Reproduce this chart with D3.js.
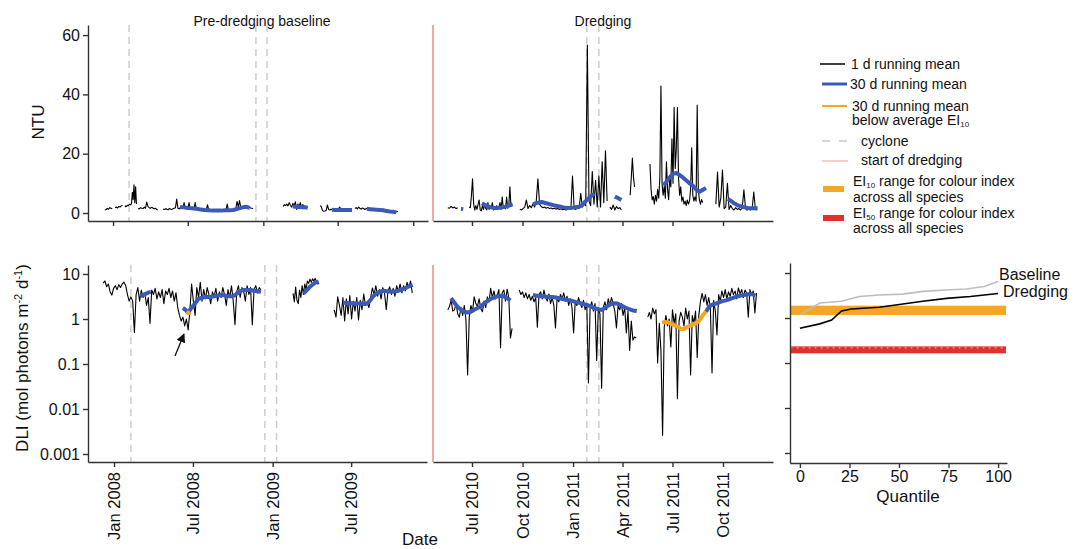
<!DOCTYPE html>
<html>
<head>
<meta charset="utf-8">
<script src="https://cdn.jsdelivr.net/npm/d3@7"></script>
<style>
  body { margin: 0; background: #fff; }
  svg { font-family: "Liberation Sans", Arial, sans-serif; }
</style>
</head>
<body>
<script>
// ---- data: [start date, step in days, values] per unbroken segment ----
const ntuBase1d = [
  ["2007-12-12", 3, [1.0, 1.2, 1.5, 1.3, 1.8, 1.6, 1.4]],
  ["2008-01-06", 3, [1.8, 2.0, 1.7, 2.2, 2.0, 2.4, 2.6]],
  ["2008-01-30", 2, [2.0, 2.4, 2.2, 2.6, 2.5, 2.8, 3.0, 2.7, 3.2, 7.0, 4.5, 9.5, 3.5, 8.8, 3.0]],
  ["2008-03-02", 3, [1.5, 1.4, 1.8, 1.6, 1.5, 2.0, 1.6, 3.7, 2.2, 1.8, 1.6, 1.9, 1.7, 1.4, 1.6, 1.2, 1.0]],
  ["2008-05-02", 3, [1.3, 1.2, 1.4, 1.3, 1.1, 1.5, 1.3, 1.2, 1.4, 1.6, 1.8, 4.7, 1.6, 1.4, 1.9, 1.5, 1.7, 3.5, 1.4, 1.6,
                     1.3, 3.5, 1.5, 1.2, 1.4, 1.1, 3.5, 1.2, 1.0, 0.9, 1.1, 0.8, 1.0, 0.9, 1.1, 1.0, 2.8, 1.0, 0.8, 0.9,
                     1.0, 0.8, 1.0, 0.9, 1.1, 0.9, 1.0, 0.8, 1.0, 0.9, 1.1, 1.0, 3.0, 1.0, 0.9, 1.2, 1.0, 1.3, 1.1, 1.6,
                     3.9, 2.0, 4.2, 1.8, 2.0, 1.7, 2.2, 2.0, 1.8, 2.1, 1.9, 1.7, 1.6, 1.5]],
  ["2009-02-18", 3, [2.2, 2.8, 2.5, 3.0, 2.4, 3.5, 2.6, 2.0, 3.2, 2.5, 3.8, 1.2, 3.0, 2.2, 3.5, 2.0, 2.8, 2.4, 2.0, 2.2, 1.9]],
  ["2009-05-19", 3, [2.5, 2.2, 0.8, 0.6, 0.7, 0.9, 2.7, 1.2, 1.0, 1.3, 1.1, 1.4, 1.2, 1.0, 1.3, 1.5, 2.0, 1.2, 1.1, 1.3,
                     1.0, 1.2, 1.4, 1.1, 1.3, 1.0, 1.2]],
  ["2009-08-12", 3, [1.5, 1.8, 1.4, 2.0, 1.6, 1.3, 1.7, 1.5, 1.2, 1.4, 1.6, 1.3, 1.1, 1.4, 1.2, 1.0, 1.3, 1.1, 0.9, 1.2,
                     1.0, 0.8, 1.0, 0.9, 0.7, 0.9, 0.8, 0.6, 0.8, 0.7, 0.5, 0.7, 0.6, 0.5, 0.4, 0.5]]
];
const ntuBase30d = [
  ["2008-06-12", 10, [1.9, 1.9, 1.7, 1.6, 1.4, 1.2, 1.0, 0.9, 0.8, 0.8, 0.8, 0.9, 0.9, 1.0, 1.4, 1.8, 2.1, 1.7]],
  ["2009-03-14", 6, [2.2, 2.1, 2.0, 2.0, 1.9, 1.9, 1.8]],
  ["2009-06-17", 7, [1.1, 1.0, 1.0, 1.0, 1.0, 1.0, 1.0, 1.0]],
  ["2009-09-10", 8, [1.4, 1.3, 1.2, 1.1, 1.0, 0.9, 0.7, 0.5, 0.4, 0.2]]
];
const ntuDredge1d = [
  ["2010-05-18", 3, [1.8, 1.6, 2.2, 1.7, 2.0, 1.5, 1.8]],
  ["2010-06-26", 2, [2.0, 1.8, 6.0, 11.5, 3.0, 1.0, 2.5, 1.2, 2.8, 4.4, 1.0, 0.7, 2.5, 1.2, 3.0, 1.5, 1.0, 3.5, 1.2, 2.0,
                     1.5, 3.5, 1.0, 2.2, 1.4, 2.5, 1.2, 2.0, 3.5, 1.2, 5.4, 1.5, 2.2, 1.4, 5.4, 1.6, 2.5, 8.8, 2.0]],
  ["2010-09-26", 3, [1.3, 1.0, 1.5, 2.0, 4.4, 1.5, 2.5, 1.8, 3.0, 2.0, 4.0, 11.5, 3.0, 2.2, 1.8, 2.0, 1.6, 1.9, 1.5, 1.7,
                     1.4, 1.6, 1.3, 1.5, 1.2, 1.4, 1.1, 1.3, 1.0, 1.2, 1.5, 1.3, 12.5, 1.5, 1.2, 1.8, 1.5, 6.6, 2.0, 3.0,
                     2.5, 56.6, 4.0, 2.5, 14.0, 3.0, 11.0, 2.0, 12.5, 2.0, 17.3, 3.5, 21.0, 4.0]],
  ["2011-03-09", 3, [2.0, 1.2, 2.7, 1.0, 2.2, 1.5, 1.8, 1.0]],
  ["2011-04-15", 2, [6.0, 12.0, 18.5, 12.0, 8.8]],
  ["2011-05-21", 2, [16.5, 8.0, 4.4, 5.5, 3.0, 6.0, 4.0, 8.0, 5.0, 12.0, 42.8, 10.0, 6.0, 9.0, 5.0, 17.3, 8.0, 4.5, 12.0, 8.8,
                     25.0, 10.0, 35.6, 15.0, 22.0, 35.6, 12.0, 6.0, 8.8, 4.0, 5.4, 3.0, 4.0, 2.5, 4.4, 3.0, 4.0, 8.0, 22.0, 6.0,
                     4.0, 5.4, 4.0, 36.4, 8.0, 4.4, 3.0, 4.5, 3.5]],
  ["2011-09-18", 3, [3.0, 13.8, 2.0, 5.0, 14.5, 1.5, 2.0, 10.0, 1.2, 2.5, 1.5, 1.0, 1.8, 1.2, 1.5, 1.0, 1.8, 7.8, 1.5, 1.0,
                     1.3, 1.0, 1.5, 7.1, 1.2, 1.0]]
];
const ntuDredge30d = [
  ["2010-06-11", 4, [1.4, 1.3]],
  ["2010-07-19", 8, [3.3, 2.5, 1.9, 1.7, 1.8, 2.0, 2.4, 3.0]],
  ["2010-10-20", 8, [3.0, 3.4, 3.7, 3.3, 2.9, 2.5, 2.2, 1.9, 1.7, 1.8, 2.0, 2.4, 4.0, 5.4, 6.5]],
  ["2011-03-18", 4, [5.6, 5.2, 4.8, 4.4]],
  ["2011-06-14", 6, [9.4, 10.5, 12.0, 13.2, 13.5, 12.8, 12.0, 11.0, 10.0, 9.2, 8.0, 7.2, 7.8, 8.4]],
  ["2011-10-10", 6, [4.7, 4.0, 3.2, 2.6, 2.2, 1.9, 1.7, 1.6, 1.6, 1.6]]
];
const dliBase1d = [
  ["2007-12-07", 4, [6.3, 7.0, 5.2, 6.0, 4.0, 3.4, 4.8, 5.5, 4.5, 5.8, 5.0, 6.0, 6.6, 5.5, 3.5, 2.5, 3.1, 2.5, 0.5, 3.5,
                     5.0, 2.5, 4.4, 3.0, 3.8, 2.0, 3.0, 0.8, 4.4, 3.5, 4.8, 2.8, 4.0, 3.0, 4.5, 2.2, 4.2, 3.5, 4.8, 3.0,
                     4.2, 2.5, 3.8, 1.8, 1.2, 0.9, 1.1, 0.7, 1.0, 0.57, 1.5, 6.0, 2.5, 1.2, 5.0, 3.0, 6.5, 2.5, 4.5, 2.8,
                     5.0, 3.5, 2.2, 4.0, 3.2, 4.8, 2.5, 4.0, 3.0, 5.0, 3.5, 2.0, 4.5, 3.0, 5.5, 2.5, 0.75, 4.0, 5.5, 3.0,
                     5.0, 4.2, 2.5, 5.5, 3.5, 5.0, 0.75, 4.5, 5.5, 3.8, 5.0, 4.4]],
  ["2009-02-17", 3, [3.7, 2.4, 5.1, 2.6, 2.2, 4.4, 3.0, 5.5, 3.5, 6.0, 4.5, 7.0, 6.2, 7.7, 6.5, 7.8, 7.0, 8.0, 6.8, 6.0, 6.3]],
  ["2009-05-23", 4, [1.6, 1.1, 3.1, 2.0, 1.2, 3.0, 0.9, 2.8, 1.3, 3.3, 1.0, 2.5, 1.5, 3.0, 0.95, 2.6, 1.6, 3.6, 2.0, 2.4,
                     1.8, 3.0, 4.9, 3.5, 5.5, 3.2, 4.5, 2.8, 5.0, 3.8, 1.6, 4.2, 5.2, 3.5, 4.8, 3.2, 5.5, 4.0, 6.0, 3.8,
                     5.5, 4.2, 6.5, 5.0, 7.0, 3.8]]
];
const dliBase30d = [
  ["2008-03-01", 5, [3.2, 3.4, 3.5, 3.7, 3.9, 4.0]],
  ["2008-06-08", 6, [1.76, 1.6, 1.36, 1.7, 2.0, 2.35, 2.8, 2.95, 3.05, 3.1, 3.1, 3.1, 3.2, 3.3, 3.35, 3.4, 3.35, 3.25, 3.2, 3.2,
                     3.4, 3.8, 4.1, 4.4, 4.4, 4.4, 4.4, 4.3, 4.2, 4.1, 4.0]],
  ["2009-03-13", 5, [3.7, 4.1, 4.6, 5.2, 5.7, 6.2, 6.6, 6.8]],
  ["2009-06-12", 7, [2.3, 2.3, 2.25, 2.25, 2.2, 2.2, 2.2, 2.15, 2.2, 2.6, 3.2, 3.7, 4.0, 4.2, 4.2, 4.1, 4.1, 4.1, 4.2, 4.4,
                     4.7, 5.0, 5.4, 5.7]]
];
const dliBaseLow = [
  ["2008-06-16", 3, [1.45, 1.38, 1.36, 1.42]]
];
const dliDredge1d = [
  ["2010-05-18", 3, [1.6, 1.9, 2.6, 1.5, 1.6, 2.2, 1.3, 1.1, 1.8, 1.2, 2.0, 0.95, 0.057, 1.1, 2.0, 1.5, 3.1, 2.2, 1.9, 2.8,
                     1.7, 1.45, 2.5, 1.8, 3.1, 2.4, 4.8, 3.0, 4.2, 2.8, 3.4, 4.5, 0.23, 3.8, 4.4, 2.5, 4.6, 3.0, 0.38, 0.62]],
  ["2010-09-25", 3, [4.4, 3.5, 4.0, 3.0, 3.8, 2.8, 3.5, 2.6, 3.2, 2.4, 3.0, 0.66, 3.5, 4.0, 2.8, 4.4, 3.0, 2.5, 3.6, 2.2,
                     3.0, 2.0, 0.63, 3.0, 2.4, 3.5, 2.8, 3.8, 2.5, 3.2, 2.0, 2.8, 1.8, 0.49, 2.5, 2.0, 3.0, 2.2, 1.8, 2.6,
                     1.6, 2.2, 0.038, 1.8, 2.4, 1.5, 2.2, 0.12, 1.8, 1.3, 0.029, 1.8, 2.4, 1.6, 2.8, 2.0, 3.0, 2.2, 1.5, 0.63,
                     2.0, 1.6, 2.2, 1.2, 1.8, 0.49, 1.5, 0.2, 0.9, 0.34, 0.4, 0.38]],
  ["2011-05-17", 3, [1.1, 1.4, 1.0, 1.75, 1.3, 1.6, 0.105, 0.8, 0.2, 0.0026, 0.66, 1.2, 0.7, 1.0, 0.24, 1.6, 0.8, 1.3, 0.017, 0.9,
                     1.4, 1.1, 0.7, 1.75, 1.0, 1.5, 0.057, 1.2, 0.8, 1.5, 0.14, 1.2, 2.5, 3.7, 2.4, 3.5, 2.0, 3.0, 1.8, 0.063,
                     2.6, 1.5, 0.44, 3.5, 2.5, 4.2, 3.0, 4.5, 2.8, 4.0, 3.2, 4.8, 3.5, 4.2, 2.8, 4.9, 3.6, 4.5, 3.0, 4.4,
                     3.8, 1.1, 4.5, 3.5, 4.2, 1.36, 3.8]]
];
const dliDredge30d = [
  ["2010-05-24", 6, [2.9, 2.3, 1.85, 1.6, 1.45, 1.4, 1.45, 1.6, 1.75, 1.9, 2.2, 2.5, 2.8, 3.0, 3.2, 3.3, 3.2, 2.9, 2.6]],
  ["2010-10-20", 7, [3.4, 3.3, 3.2, 3.15, 3.1, 3.1, 3.0, 2.85, 2.75, 2.65, 2.55, 2.4, 2.3, 2.15, 2.05, 1.9, 1.75, 1.65, 1.58, 1.85,
                     2.1, 2.25, 2.2, 2.0, 1.8, 1.65, 1.55, 1.5]],
  ["2011-08-31", 6, [1.45, 1.9, 2.1, 2.2, 2.35, 2.5, 2.6, 2.75, 2.9, 3.1, 3.25, 3.35, 3.45, 3.55, 3.55, 3.3]]
];
const dliDredgeLow = [
  ["2011-06-12", 5, [0.83, 0.86, 0.85, 0.8, 0.75, 0.7, 0.66, 0.6, 0.6, 0.66, 0.7, 0.75, 0.8, 0.85, 1.0, 1.25, 1.45]]
];

// quantile panel
const quantBaseline = [0, 5, 10, 21, 30, 40, 52, 62, 74, 84, 93, 100];
const dliBaselineQ = [1.19, 1.58, 2.15, 2.35, 3.0, 3.25, 3.4, 3.9, 4.2, 4.4, 5.0, 6.5];
const quantDredging = [0, 10, 16, 21, 26, 40, 52, 62, 74, 86, 100];
const dliDredgingQ = [0.59, 0.74, 0.9, 1.43, 1.58, 1.73, 2.05, 2.35, 2.73, 3.0, 3.5];
const ei10Range = [1.17, 1.88];
const ei50Range = [0.164, 0.234];

const cyclonesBase = ["2008-02-09", "2008-12-14", "2009-01-10"];
const cyclonesDredge = ["2011-01-26", "2011-02-17"];
const dredgeStart = "2010-04-21";

const topLeftTicks = ["2008-01-01", "2008-07-01", "2009-01-01", "2009-07-01", "2010-01-01"];
const bottomLeftTicks = ["2008-01-01", "2008-07-01", "2009-01-01", "2009-07-01"];
const midTicks = ["2010-07-01", "2010-10-01", "2011-01-01", "2011-04-01", "2011-07-01", "2011-10-01"];
const ntuTicks = [0, 20, 40, 60];
const dliTicks = [0.001, 0.01, 0.1, 1, 10];
const quantTicks = [0, 25, 50, 75, 100];

// ---- colours ----
const BLUE = "#3b5ab8", ORANGE = "#f6a623", RED = "#e3302b", DREDGE = "#f08377", CYCLONE = "#c9c9c9", AXIS = "#333";

const parse = d3.timeParse("%Y-%m-%d");
function expand(segs) {
    return segs.map(([s, step, vals]) => vals.map((v, i) => ({ date: d3.timeDay.offset(parse(s), i * step), value: v })));
}

const svg = d3.select("body").append("svg").attr("width", 1083).attr("height", 549);

// scales
const xTopLeft = d3.scaleTime().domain([parse("2007-11-01"), parse("2010-02-06")]).range([88, 428]);
const xBotLeft = d3.scaleTime().domain([parse("2007-11-02"), parse("2009-12-23")]).range([88, 427]);
const xMid = d3.scaleTime().domain([parse("2010-04-21"), parse("2011-12-31")]).range([433, 773]);
const yNtu = d3.scaleLinear().domain([-2.7, 63.4]).range([221, 25]);
const yDli = d3.scaleLog().domain([Math.pow(10, 1 - 188 / 45), Math.pow(10, 1 + 9 / 45)]).range([462, 265]);
const xQ = d3.scaleLinear().domain([-5, 104.5]).range([790, 1007]);
const yQ = d3.scaleLog().domain([Math.pow(10, 1 - 190 / 45), Math.pow(10, 1 + 10 / 45)]).range([463, 263]);

function styleAxis(g) {
    g.select(".domain").attr("stroke", AXIS).attr("stroke-width", 1.4);
    g.selectAll(".tick line").attr("stroke", AXIS).attr("stroke-width", 1.4);
    g.selectAll(".tick text").attr("fill", "#111").style("font-size", "16px").style("font-family", "'Liberation Sans', Arial, sans-serif");
}

function drawLines(x, y, segs, color, width) {
    const line = d3.line().x(d => x(d.date)).y(d => y(d.value));
    svg.append("g").selectAll("path").data(expand(segs)).join("path")
        .attr("d", line).attr("fill", "none")
        .attr("stroke", color).attr("stroke-width", width)
        .attr("stroke-linejoin", "round");
}

function drawCyclones(x, list, y0, y1) {
    svg.append("g").selectAll("line").data(list).join("line")
        .attr("x1", d => x(parse(d))).attr("x2", d => x(parse(d)))
        .attr("y1", y0).attr("y2", y1)
        .attr("stroke", CYCLONE).attr("stroke-width", 1.4).attr("stroke-dasharray", "7,5");
}

function xAxis(x, ticks, yPos, labels) {
    const ax = d3.axisBottom(x).tickValues(ticks.map(parse)).tickSize(5).tickSizeOuter(0)
        .tickFormat(labels ? d3.timeFormat("%b %Y") : "");
    const g = svg.append("g").attr("transform", `translate(0,${yPos})`).call(ax).call(styleAxis);
    if (labels) {
        g.selectAll(".tick text")
            .style("font-size", "16.5px")
            .attr("transform", "rotate(-90)")
            .attr("x", -10).attr("y", 0).attr("dy", "0.35em")
            .style("text-anchor", "end");
    }
}

// ---- top-left: NTU baseline ----
drawCyclones(xTopLeft, cyclonesBase, 25, 221);
drawLines(xTopLeft, yNtu, ntuBase1d, "#000", 1.1);
drawLines(xTopLeft, yNtu, ntuBase30d, BLUE, 4);
svg.append("g").attr("transform", "translate(88,0)")
    .call(d3.axisLeft(yNtu).tickValues(ntuTicks).tickSize(5).tickSizeOuter(0)).call(styleAxis);
xAxis(xTopLeft, topLeftTicks, 221, false);

// ---- top-middle: NTU dredging ----
drawCyclones(xMid, cyclonesDredge, 25, 221);
drawLines(xMid, yNtu, ntuDredge1d, "#000", 1.1);
drawLines(xMid, yNtu, ntuDredge30d, BLUE, 4);
xAxis(xMid, midTicks, 221, false);
svg.append("line").attr("x1", xMid(parse(dredgeStart))).attr("x2", xMid(parse(dredgeStart)))
    .attr("y1", 25).attr("y2", 221).attr("stroke", DREDGE).attr("stroke-width", 1.4);

// ---- bottom-left: DLI baseline ----
drawCyclones(xBotLeft, cyclonesBase, 265, 462);
drawLines(xBotLeft, yDli, dliBase1d, "#000", 1.1);
drawLines(xBotLeft, yDli, dliBase30d, BLUE, 4);
drawLines(xBotLeft, yDli, dliBaseLow, ORANGE, 4);
svg.append("g").attr("transform", "translate(88,0)")
    .call(d3.axisLeft(yDli).tickValues(dliTicks).tickFormat(d => String(d)).tickSize(5).tickSizeOuter(0)).call(styleAxis);
xAxis(xBotLeft, bottomLeftTicks, 462, true);

// arrow pointing at the low-light event
svg.append("defs").append("marker").attr("id", "arrowhead")
    .attr("viewBox", "0 0 10 10").attr("refX", 9).attr("refY", 5)
    .attr("markerWidth", 7).attr("markerHeight", 7).attr("orient", "auto")
    .append("path").attr("d", "M0,0 L10,5 L0,10 z").attr("fill", "#111");
svg.append("line").attr("x1", 175).attr("y1", 356).attr("x2", 184).attr("y2", 334)
    .attr("stroke", "#111").attr("stroke-width", 1.3).attr("marker-end", "url(#arrowhead)");

// ---- bottom-middle: DLI dredging ----
drawCyclones(xMid, cyclonesDredge, 265, 462);
drawLines(xMid, yDli, dliDredge1d, "#000", 1.1);
drawLines(xMid, yDli, dliDredge30d, BLUE, 4);
drawLines(xMid, yDli, dliDredgeLow, ORANGE, 4);
xAxis(xMid, midTicks, 462, true);
svg.append("line").attr("x1", xMid(parse(dredgeStart))).attr("x2", xMid(parse(dredgeStart)))
    .attr("y1", 265).attr("y2", 462).attr("stroke", DREDGE).attr("stroke-width", 1.4);

// ---- right: quantile panel ----
svg.append("rect").attr("x", xQ(-4.7)).attr("width", xQ(104) - xQ(-4.7))
    .attr("y", yQ(ei10Range[1])).attr("height", yQ(ei10Range[0]) - yQ(ei10Range[1])).attr("fill", ORANGE);
svg.append("rect").attr("x", xQ(-4.7)).attr("width", xQ(104) - xQ(-4.7))
    .attr("y", yQ(ei50Range[1])).attr("height", yQ(ei50Range[0]) - yQ(ei50Range[1])).attr("fill", RED);
svg.append("line").attr("x1", xQ(-4.7)).attr("x2", xQ(104))
    .attr("y1", yQ(ei50Range[1]) + 1.5).attr("y2", yQ(ei50Range[1]) + 1.5)
    .attr("stroke", "#fff").attr("stroke-opacity", 0.6).attr("stroke-width", 1).attr("stroke-dasharray", "2,4");

const qLine = d3.line().x(d => xQ(d[0])).y(d => yQ(d[1]));
svg.append("path").attr("d", qLine(d3.zip(quantBaseline, dliBaselineQ)))
    .attr("fill", "none").attr("stroke", "#bdbdbd").attr("stroke-width", 1.6);
svg.append("path").attr("d", qLine(d3.zip(quantDredging, dliDredgingQ)))
    .attr("fill", "none").attr("stroke", "#000").attr("stroke-width", 1.6);
svg.append("text").attr("x", 999).attr("y", 280).attr("font-size", 16).attr("fill", "#111").text("Baseline");
svg.append("text").attr("x", 1003).attr("y", 297).attr("font-size", 16).attr("fill", "#111").text("Dredging");

svg.append("g").attr("transform", "translate(790,0)")
    .call(d3.axisLeft(yQ).tickValues(dliTicks).tickFormat("").tickSize(5).tickSizeOuter(0)).call(styleAxis);
svg.append("g").attr("transform", "translate(0,463)")
    .call(d3.axisBottom(xQ).tickValues(quantTicks).tickSize(5).tickSizeOuter(0)).call(styleAxis)
    .selectAll(".tick text").attr("y", 8);

// ---- titles / labels ----
svg.append("text").attr("x", 262).attr("y", 26).attr("text-anchor", "middle").attr("font-size", 14).attr("fill", "#111").text("Pre-dredging baseline");
svg.append("text").attr("x", 603).attr("y", 26).attr("text-anchor", "middle").attr("font-size", 14).attr("fill", "#111").text("Dredging");
svg.append("text").attr("transform", "translate(44,122) rotate(-90)").attr("text-anchor", "middle")
    .attr("font-size", 17).attr("fill", "#111").text("NTU");
const dliLab = svg.append("text").attr("transform", "translate(28,358) rotate(-90)").attr("text-anchor", "middle")
    .attr("font-size", 17).attr("fill", "#111");
dliLab.append("tspan").text("DLI (mol photons m");
dliLab.append("tspan").attr("dy", -6).attr("font-size", 11).text("-2");
dliLab.append("tspan").attr("dy", 6).text(" d");
dliLab.append("tspan").attr("dy", -6).attr("font-size", 11).text("-1");
dliLab.append("tspan").attr("dy", 6).text(")");
svg.append("text").attr("x", 420).attr("y", 545).attr("text-anchor", "middle").attr("font-size", 17).attr("fill", "#111").text("Date");
svg.append("text").attr("x", 908).attr("y", 502).attr("text-anchor", "middle").attr("font-size", 17).attr("fill", "#111").text("Quantile");

// ---- legend ----
const leg = svg.append("g").attr("font-size", 14).attr("fill", "#111");
function legText(x, y, parts) {
    const t = leg.append("text").attr("x", x).attr("y", y + 5);
    let shifted = false;
    parts.forEach(p => {
        if (typeof p === "string") {
            const s = t.append("tspan").text(p);
            if (shifted) { s.attr("dy", -2); shifted = false; }
        } else {
            t.append("tspan").attr("font-size", 8).attr("dy", 2).text(p.sub);
            shifted = true;
        }
    });
    return t;
}
leg.append("line").attr("x1", 820).attr("x2", 845).attr("y1", 64).attr("y2", 64).attr("stroke", "#000").attr("stroke-width", 1.5);
legText(851, 64, ["1 d running mean"]);
leg.append("line").attr("x1", 822).attr("x2", 847).attr("y1", 84).attr("y2", 84).attr("stroke", BLUE).attr("stroke-width", 3);
legText(850, 84, ["30 d running mean"]);
leg.append("line").attr("x1", 822).attr("x2", 847).attr("y1", 106).attr("y2", 106).attr("stroke", ORANGE).attr("stroke-width", 2);
legText(852, 106, ["30 d running mean"]);
legText(852, 120, ["below average EI", { sub: "10" }]);
leg.append("line").attr("x1", 822).attr("x2", 848).attr("y1", 141).attr("y2", 141).attr("stroke", CYCLONE).attr("stroke-width", 1.3).attr("stroke-dasharray", "8,9");
legText(861, 141, ["cyclone"]);
leg.append("line").attr("x1", 822).attr("x2", 848).attr("y1", 161).attr("y2", 161).attr("stroke", "#f7b3a8").attr("stroke-width", 1.3);
legText(861, 160, ["start of dredging"]);
leg.append("rect").attr("x", 823).attr("y", 186).attr("width", 21).attr("height", 6).attr("fill", ORANGE);
legText(853, 181, ["EI", { sub: "10" }, " range for colour index"]);
legText(853, 197, ["across all species"]);
leg.append("rect").attr("x", 823).attr("y", 215).attr("width", 21).attr("height", 6).attr("fill", RED);
legText(853, 213, ["EI", { sub: "50" }, " range for colour index"]);
legText(853, 228, ["across all species"]);
</script>
</body>
</html>
